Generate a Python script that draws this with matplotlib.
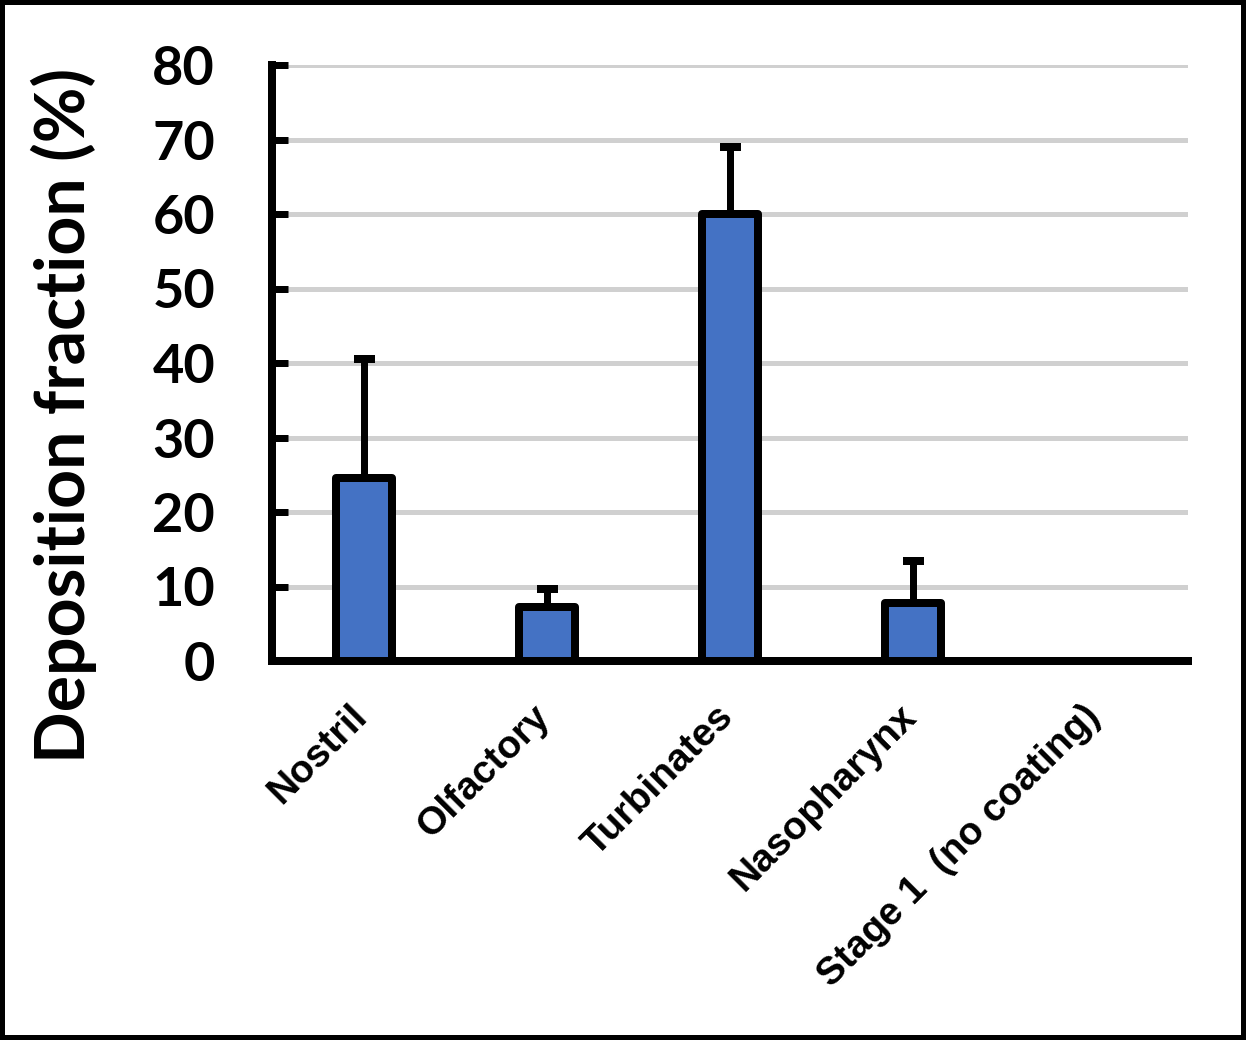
import matplotlib
matplotlib.use("Agg")
import matplotlib.pyplot as plt
from matplotlib.patches import Rectangle

categories = ["Nostril", "Olfactory", "Turbinates", "Nasopharynx", "Stage 1  (no coating)"]
values = [24.5, 7.2, 60.0, 7.8, 0.0]
errors = [16.0, 2.5, 9.0, 5.6, 0.0]
yticks = [0, 10, 20, 30, 40, 50, 60, 70, 80]

W, H, DPI = 1246, 1040, 100
fig = plt.figure(figsize=(W / DPI, H / DPI), dpi=DPI)
px = 72 / DPI

ax = fig.add_axes([272 / W, 1 - 661 / H, (1188 - 272) / W, (661 - 65) / H])
x = list(range(len(categories)))
nz = [i for i in x if values[i] > 0]
bars = ax.bar([x[i] for i in nz], [values[i] for i in nz], width=0.305, color="#4472C4",
              edgecolor="black", linewidth=8 * px, zorder=3)
for b in bars:
    b.set_joinstyle("round")
ax.errorbar([x[i] for i in nz], [values[i] for i in nz],
            yerr=[[0] * len(nz), [errors[i] for i in nz]],
            fmt="none", ecolor="black", elinewidth=7 * px, capsize=10 * px * 1.05,
            capthick=8 * px, zorder=2)

ax.set_xlim(-0.5, 4.5)
ax.set_ylim(0, 80)
ax.set_yticks(yticks)
ax.set_yticklabels([str(v) for v in yticks], fontfamily="Lato", fontweight="bold", fontsize=39)
ax.yaxis.grid(True, color="#d0d0d0", linewidth=5 * px, zorder=0)
ax.set_axisbelow(True)
ax.tick_params(axis="y", direction="in", length=16 * px, width=7 * px, pad=41, colors="black")
ax.set_xticks(x)
ax.set_xticklabels([])
ax.tick_params(axis="x", length=0)
for s in ["top", "right"]:
    ax.spines[s].set_visible(False)
ax.spines["left"].set_linewidth(8 * px)
ax.spines["bottom"].set_linewidth(8 * px)
ax.spines["left"].set_capstyle("projecting")
ax.spines["bottom"].set_capstyle("projecting")

for i, lab in enumerate(categories):
    ax.annotate(lab, xy=(x[i], 0), xycoords="data", xytext=(-2, -50), textcoords="offset pixels",
                rotation=45, rotation_mode="anchor", ha="right", va="center",
                fontfamily="Liberation Sans", fontweight="bold", fontsize=28, annotation_clip=False)

fig.text(64 / W, 1 - 415 / H, "Deposition fraction (%)", rotation=90, ha="center", va="center",
         fontfamily="Lato", fontweight="bold", fontsize=49)

fig.patches.append(Rectangle((0, 0), 1, 1, transform=fig.transFigure, fill=False,
                             edgecolor="black", linewidth=10 * px, zorder=10))

fig.savefig("out.png", dpi=DPI)
